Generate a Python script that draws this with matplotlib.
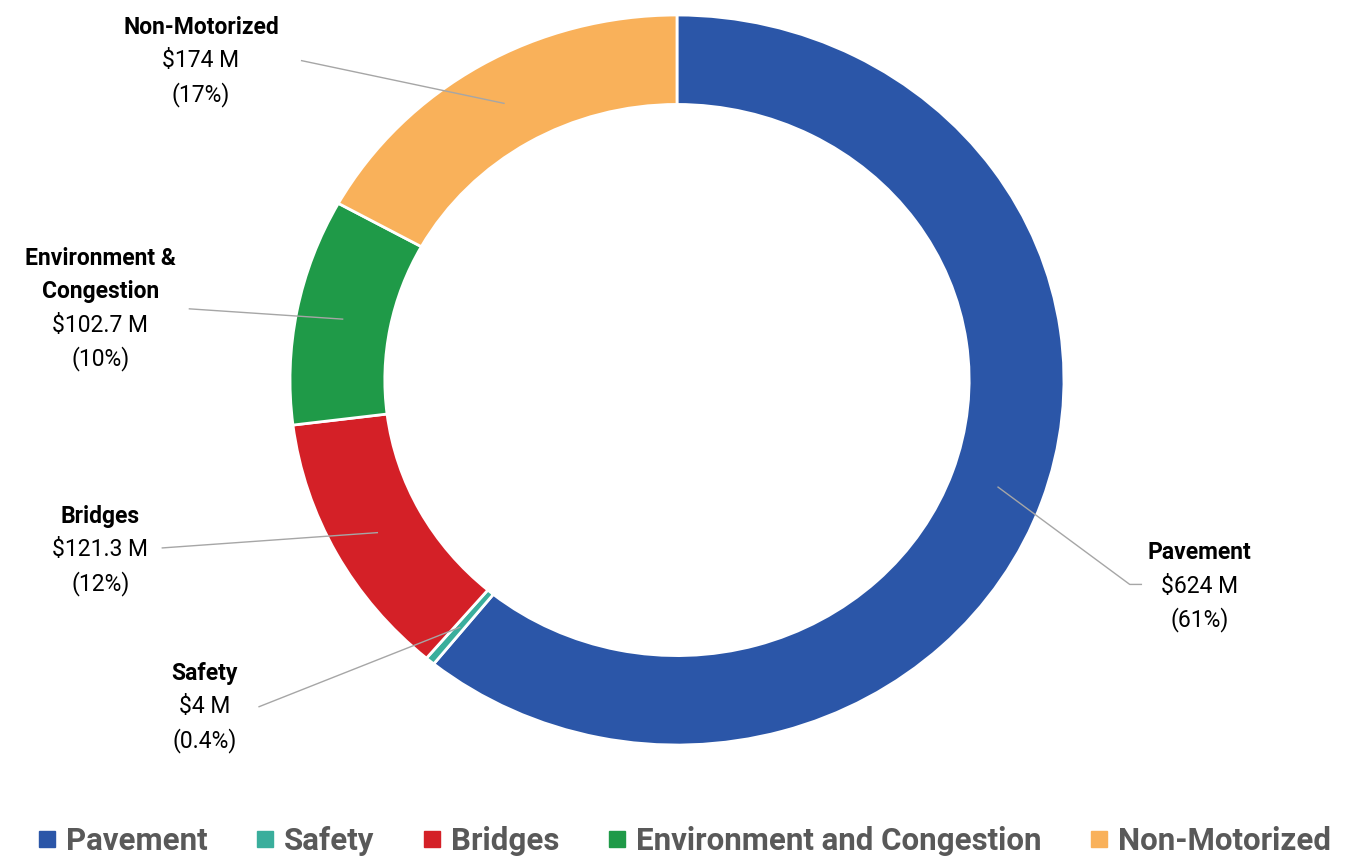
import numpy as np
import matplotlib
matplotlib.use("Agg")
import matplotlib.pyplot as plt
from matplotlib.lines import Line2D

categories = ["Pavement", "Safety", "Bridges", "Environment and Congestion", "Non-Motorized"]
label_names = ["Pavement", "Safety", "Bridges", "Environment &\nCongestion", "Non-Motorized"]
amounts = [624, 4, 121.3, 102.7, 174]
amount_text = ["$624 M", "$4 M", "$121.3 M", "$102.7 M", "$174 M"]
pct_text = ["(61%)", "(0.4%)", "(12%)", "(10%)", "(17%)"]
colors = ["#2B56A8", "#3AAE9C", "#D42027", "#1F9A48", "#F9B15A"]

# label block centre (amount line, axes data units) and leader line end
label_pos = [(1.35, -0.565), (-1.22, -0.895), (-1.49, -0.465), (-1.49, 0.15), (-1.23, 0.875)]
line_end = [(1.17, -0.56), (-1.08, -0.895), (-1.33, -0.46), (-1.26, 0.195), (-0.97, 0.875)]

fig = plt.figure(figsize=(13.59, 8.63), dpi=100)
ax = fig.add_axes([0.2134, 0.1367, 0.5695, 0.8459])

wedges, _ = ax.pie(amounts, colors=colors, startangle=90, counterclock=False,
                   radius=1.0, wedgeprops=dict(width=0.245, edgecolor="white", linewidth=2))
ax.set_aspect("auto")
ax.set_xlim(-1, 1)
ax.set_ylim(-1, 1)
ax.axis("off")

lbl_font = ["Roboto", "DejaVu Sans"]
step = 0.092
for i, w in enumerate(wedges):
    mid = np.deg2rad((w.theta1 + w.theta2) / 2)
    x0, y0 = 0.88 * np.cos(mid), 0.88 * np.sin(mid)
    lx, ly = label_pos[i]
    ex, ey = line_end[i]
    if i == 0:
        ax.plot([x0, ex, ex + 0.03], [y0, ey, ey], color="#A6A6A6", lw=1, clip_on=False)
    else:
        ax.plot([x0, ex], [y0, ey], color="#A6A6A6", lw=1, clip_on=False)
    name_lines = label_names[i].split("\n")
    for k, nm in enumerate(name_lines):
        ax.text(lx, ly + step * (len(name_lines) - k), nm, ha="center", va="center",
                fontsize=16.5, fontweight="bold", family=lbl_font, clip_on=False)
    ax.text(lx, ly, amount_text[i], ha="center", va="center", fontsize=16.5,
            family=lbl_font, clip_on=False)
    ax.text(lx, ly - step, pct_text[i], ha="center", va="center", fontsize=16.5,
            family=lbl_font, clip_on=False)

handles = [Line2D([0], [0], marker="s", linestyle="none", markersize=12,
                  markerfacecolor=c, markeredgecolor=c) for c in colors]
leg = fig.legend(handles, categories, loc="center", bbox_to_anchor=(0.5, 0.026), ncol=5,
                 frameon=False, handletextpad=0.0, columnspacing=1.25, handlelength=1.2,
                 prop=dict(family=["Roboto", "DejaVu Sans"], weight="bold", size=22.5))
for t in leg.get_texts():
    t.set_color("#595959")

fig.savefig("out.png", dpi=100)
